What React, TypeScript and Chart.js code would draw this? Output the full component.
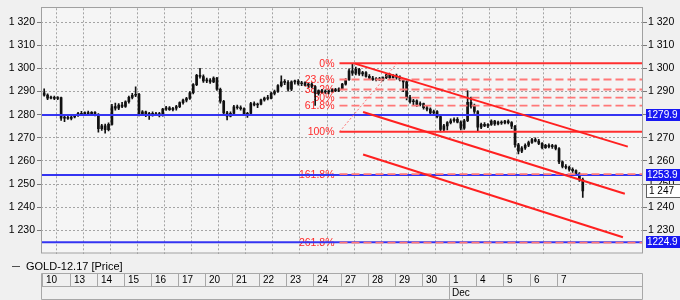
import React, { useEffect, useRef } from 'react';
import { Chart, registerables } from 'chart.js';

Chart.register(...registerables);

// ---------- data ----------
const dayLabels = ['10', '13', '14', '15', '16', '17', '20', '21', '22', '23', '24', '27', '28', '29', '30', '1', '4', '5', '6', '7'];
const monthLabels = ['Dec'];
const monthStartDay = [15];
const candlesPerDay = 8;
const seriesName = 'GOLD-12.17 [Price]';

const opens = [
  1289.5, 1288.5, 1287.2, 1287.5, 1287.0, 1287.4, 1278.5, 1278.8,
  1278.4, 1279.0, 1279.8, 1280.6, 1280.2, 1280.9, 1280.4, 1281.0,
  1280.0, 1274.0, 1275.2, 1273.5, 1275.8, 1283.5, 1282.8, 1284.2,
  1283.6, 1285.6, 1287.5, 1288.4, 1288.8, 1280.5, 1281.2, 1280.0,
  1280.6, 1280.0, 1280.5, 1279.6, 1282.4, 1283.0, 1282.2, 1282.8,
  1283.5, 1285.2, 1286.3, 1287.0, 1289.5, 1293.0, 1297.0, 1296.5,
  1294.6, 1295.0, 1294.2, 1295.8, 1291.0, 1285.8, 1280.8, 1279.4,
  1280.6, 1283.4, 1283.0, 1282.6, 1280.2, 1280.6, 1284.8, 1284.2,
  1284.6, 1286.4, 1287.2, 1287.0, 1289.2, 1290.0, 1292.6, 1294.2,
  1294.0, 1291.0, 1294.2, 1294.4, 1293.4, 1293.8, 1292.8, 1293.2,
  1292.2, 1289.2, 1290.4, 1290.0, 1289.8, 1290.2, 1290.6, 1290.4,
  1291.2, 1293.2, 1295.2, 1299.0, 1298.0, 1299.6, 1297.6, 1298.2,
  1296.6, 1295.8, 1295.2, 1295.6, 1295.0, 1296.0, 1297.2, 1296.0,
  1296.8, 1296.2, 1295.0, 1294.2, 1287.4, 1285.6, 1286.0, 1284.4,
  1284.8, 1283.0, 1282.4, 1280.8, 1281.4, 1279.2, 1273.6, 1275.2,
  1276.6, 1277.4, 1278.0, 1276.8, 1274.2, 1277.4, 1285.4, 1283.6,
  1281.4, 1274.6, 1275.8, 1275.2, 1275.8, 1277.2, 1276.0, 1276.8,
  1276.4, 1277.2, 1276.6, 1275.0, 1267.0, 1264.2, 1265.6, 1266.8,
  1268.0, 1269.2, 1268.6, 1267.6, 1265.8, 1266.8, 1266.2, 1266.6,
  1265.4, 1259.6, 1257.6, 1257.2, 1256.4, 1255.8, 1254.4, 1252.0,
];
const highs = [
  1291.2, 1289.0, 1288.0, 1288.0, 1287.8, 1287.6, 1279.5, 1279.5,
  1279.3, 1280.2, 1281.0, 1281.5, 1281.2, 1281.6, 1281.3, 1281.4,
  1280.5, 1275.8, 1276.0, 1276.5, 1284.5, 1285.0, 1284.8, 1285.4,
  1286.0, 1288.0, 1289.2, 1292.0, 1289.2, 1281.8, 1281.6, 1281.0,
  1281.2, 1281.0, 1281.0, 1282.8, 1283.6, 1283.5, 1283.2, 1284.0,
  1285.6, 1286.8, 1287.5, 1290.0, 1293.5, 1297.5, 1300.0, 1297.2,
  1295.8, 1295.6, 1296.4, 1296.2, 1291.5, 1286.2, 1281.5, 1281.2,
  1284.0, 1284.2, 1283.8, 1283.0, 1281.0, 1285.4, 1285.6, 1285.0,
  1286.8, 1287.6, 1288.4, 1289.8, 1290.6, 1293.0, 1296.8, 1295.2,
  1294.8, 1294.6, 1295.0, 1295.2, 1294.4, 1294.2, 1293.6, 1293.8,
  1292.6, 1290.8, 1291.0, 1290.8, 1290.6, 1291.2, 1291.4, 1291.6,
  1293.6, 1295.6, 1299.8, 1302.2, 1300.6, 1300.0, 1298.8, 1298.6,
  1297.4, 1296.6, 1296.0, 1296.2, 1296.4, 1297.6, 1297.8, 1297.4,
  1297.6, 1296.8, 1295.6, 1294.6, 1288.4, 1286.6, 1286.4, 1285.6,
  1285.0, 1283.8, 1283.0, 1282.0, 1281.8, 1279.6, 1275.8, 1277.0,
  1278.2, 1278.6, 1278.8, 1277.4, 1278.0, 1290.4, 1287.6, 1284.6,
  1281.8, 1276.4, 1276.6, 1276.2, 1277.8, 1277.6, 1277.2, 1277.4,
  1277.6, 1277.8, 1277.0, 1275.4, 1267.6, 1266.2, 1267.4, 1268.6,
  1269.8, 1270.0, 1269.4, 1268.0, 1267.2, 1267.4, 1267.2, 1267.0,
  1265.8, 1260.0, 1258.4, 1257.8, 1257.0, 1256.2, 1255.0, 1252.6,
];
const lows = [
  1288.0, 1286.5, 1286.8, 1286.5, 1286.5, 1277.5, 1277.0, 1278.0,
  1277.8, 1278.6, 1279.3, 1279.8, 1279.6, 1280.0, 1279.8, 1279.5,
  1272.5, 1273.2, 1272.0, 1273.0, 1275.5, 1282.0, 1282.2, 1283.0,
  1283.2, 1285.0, 1286.8, 1287.8, 1279.5, 1279.8, 1279.2, 1278.0,
  1279.4, 1279.6, 1279.0, 1279.4, 1281.8, 1281.8, 1281.6, 1282.0,
  1283.0, 1284.6, 1285.5, 1286.6, 1289.0, 1292.6, 1295.8, 1294.0,
  1293.8, 1293.5, 1293.8, 1290.5, 1285.0, 1280.0, 1277.8, 1279.0,
  1280.2, 1282.4, 1282.0, 1279.6, 1278.8, 1280.2, 1283.8, 1283.0,
  1284.2, 1285.8, 1286.4, 1286.8, 1288.6, 1289.6, 1292.0, 1293.0,
  1290.2, 1290.4, 1293.2, 1292.8, 1292.6, 1292.4, 1291.8, 1291.6,
  1284.0, 1288.4, 1289.4, 1289.2, 1289.0, 1289.8, 1290.0, 1290.0,
  1290.8, 1292.8, 1294.8, 1297.0, 1297.2, 1297.0, 1296.8, 1296.2,
  1295.4, 1294.8, 1294.6, 1294.8, 1294.6, 1295.6, 1295.6, 1295.8,
  1295.4, 1294.6, 1290.0, 1286.4, 1285.0, 1284.2, 1283.6, 1283.8,
  1282.4, 1281.6, 1280.2, 1280.0, 1278.6, 1272.6, 1272.8, 1273.4,
  1276.0, 1276.8, 1276.4, 1273.4, 1273.6, 1277.0, 1282.8, 1280.6,
  1272.8, 1274.0, 1274.8, 1274.4, 1275.4, 1275.4, 1275.6, 1275.8,
  1276.0, 1276.0, 1274.0, 1266.0, 1263.0, 1263.6, 1265.0, 1266.2,
  1267.6, 1268.2, 1267.0, 1265.2, 1265.4, 1265.6, 1265.4, 1264.8,
  1258.8, 1257.0, 1256.6, 1255.6, 1255.0, 1253.6, 1251.2, 1244.2,
];
const closes = [
  1288.5, 1287.2, 1287.5, 1287.0, 1287.4, 1278.5, 1278.8, 1278.4,
  1279.0, 1279.8, 1280.6, 1280.2, 1280.9, 1280.4, 1281.0, 1280.0,
  1274.0, 1275.2, 1273.5, 1275.8, 1283.5, 1282.8, 1284.2, 1283.6,
  1285.6, 1287.5, 1288.4, 1288.8, 1280.5, 1281.2, 1280.0, 1280.6,
  1280.0, 1280.5, 1279.6, 1282.4, 1283.0, 1282.2, 1282.8, 1283.5,
  1285.2, 1286.3, 1287.0, 1289.5, 1293.0, 1297.0, 1296.5, 1294.6,
  1295.0, 1294.2, 1295.8, 1291.0, 1285.8, 1280.8, 1279.4, 1280.6,
  1283.4, 1283.0, 1282.6, 1280.2, 1280.6, 1284.8, 1284.2, 1284.6,
  1286.4, 1287.2, 1287.0, 1289.2, 1290.0, 1292.6, 1294.2, 1294.0,
  1291.0, 1294.2, 1294.4, 1293.4, 1293.8, 1292.8, 1293.2, 1292.2,
  1289.2, 1290.4, 1290.0, 1289.8, 1290.2, 1290.6, 1290.4, 1291.2,
  1293.2, 1295.2, 1299.0, 1298.0, 1299.6, 1297.6, 1298.2, 1296.6,
  1295.8, 1295.2, 1295.6, 1295.0, 1296.0, 1297.2, 1296.0, 1296.8,
  1296.2, 1295.0, 1294.2, 1287.4, 1285.6, 1286.0, 1284.4, 1284.8,
  1283.0, 1282.4, 1280.8, 1281.4, 1279.2, 1273.6, 1275.2, 1276.6,
  1277.4, 1278.0, 1276.8, 1274.2, 1277.4, 1285.4, 1283.6, 1281.4,
  1274.6, 1275.8, 1275.2, 1275.8, 1277.2, 1276.0, 1276.8, 1276.4,
  1277.2, 1276.6, 1275.0, 1267.0, 1264.2, 1265.6, 1266.8, 1268.0,
  1269.2, 1268.6, 1267.6, 1265.8, 1266.8, 1266.2, 1266.6, 1265.4,
  1259.6, 1257.6, 1257.2, 1256.4, 1255.8, 1254.4, 1252.0, 1247.0,
];

// horizontal support / resistance lines
const hLevels = [1279.9, 1253.9, 1224.9];

// Fibonacci retracement
const fibHigh = 1302.2;
const fibLow = 1272.6;
const fibStartDay = 10.96;
const fibLevels = [0, 23.6, 38.2, 50, 61.8, 100, 161.8, 261.8];
const fibLabels = ['0%', '23.6%', '38.2%', '50%', '61.8%', '100%', '161.8%', '261.8%'];
const fibDiagX = [10.96, 13.08];
const fibDiagY = [1272.6, 1302.2];

// trend channel lines
const channelUpperX = [11.53, 21.6];
const channelUpperY = [1302.1, 1266.2];
const channelMidX = [11.83, 21.49];
const channelMidY = [1281.2, 1245.8];
const channelLowX = [11.83, 21.42];
const channelLowY = [1262.8, 1227.0];

// axes
const yTickValues = [1230, 1240, 1250, 1260, 1270, 1280, 1290, 1300, 1310, 1320];
const yMin = 1220;
const yMax = 1326;
const xMin = -0.055;
const xMax = 22.16;

// ---------- helpers ----------
const FONT = '"Liberation Sans", Arial, sans-serif';
const gridColor = '#A4A4A4';

function fmtSpace(v: number): string {
  const r = Math.round(v);
  const th = Math.floor(r / 1000);
  const rest = String(r % 1000).padStart(3, '0');
  return th > 0 ? `${th} ${rest}` : String(r);
}

function candleX(i: number): number {
  return Math.floor(i / candlesPerDay) + ((i % candlesPerDay) + 0.5) / candlesPerDay;
}

function fibValue(lvl: number): number {
  return fibHigh - (fibHigh - fibLow) * lvl / 100;
}

const decorPlugin = {
  id: 'decor',
  beforeDraw(chart: any) {
    const { ctx, chartArea: ca, width, height } = chart;
    ctx.save();
    ctx.fillStyle = '#F0F0F0';
    ctx.fillRect(0, 0, width, height);
    ctx.fillStyle = '#F5F5F5';
    ctx.fillRect(ca.left, ca.top, ca.right - ca.left, ca.bottom - ca.top);
    ctx.restore();
  },
  beforeDatasetsDraw(chart: any) {
    const { ctx, scales } = chart;
    ctx.save();
    ctx.font = `10.5px ${FONT}`;
    ctx.fillStyle = '#FF2A2A';
    ctx.textAlign = 'right';
    ctx.textBaseline = 'middle';
    const x = scales.x.getPixelForValue(fibStartDay) - 5;
    fibLevels.forEach((lvl, i) => {
      const y = scales.y.getPixelForValue(fibValue(lvl));
      ctx.fillText(fibLabels[i], x, y + 0.5);
    });
    ctx.restore();
  },
  afterDraw(chart: any) {
    const { ctx, chartArea: ca, scales, width } = chart;
    const ys = scales.y;
    const xs = scales.x;
    ctx.save();
    // frame
    ctx.strokeStyle = '#A0A0A0';
    ctx.lineWidth = 1;
    ctx.strokeRect(Math.round(ca.left) + 0.5, Math.round(ca.top) - 0.5, Math.round(ca.right - ca.left) - 1, Math.round(ca.bottom - ca.top) + 0.5);

    // price tags
    ctx.font = `10px ${FONT}`;
    ctx.textBaseline = 'middle';
    ctx.textAlign = 'left';
    const tagX = Math.round(ca.right) + 3;
    hLevels.forEach((v) => {
      const py = Math.round(ys.getPixelForValue(v));
      ctx.fillStyle = '#1818F2';
      ctx.fillRect(tagX, py - 6, width - tagX, 12);
      ctx.fillStyle = '#FFFFFF';
      ctx.fillText(v.toFixed(1), tagX + 1, py + 0.5);
    });
    const last = closes[closes.length - 1];
    const lpy = Math.round(ys.getPixelForValue(last));
    ctx.fillStyle = '#FFFFFF';
    ctx.fillRect(tagX, lpy - 7, width - tagX, 14);
    ctx.strokeStyle = '#606060';
    ctx.strokeRect(tagX + 0.5, lpy - 6.5, width - tagX + 2, 13);
    ctx.fillStyle = '#000000';
    ctx.fillText(fmtSpace(last), tagX + 3, lpy + 0.5);

    // legend
    const legY = Math.round(ca.bottom) + 12;
    ctx.strokeStyle = '#505050';
    ctx.beginPath();
    ctx.moveTo(12, legY + 0.5);
    ctx.lineTo(20, legY + 0.5);
    ctx.stroke();
    ctx.font = `11px ${FONT}`;
    ctx.fillStyle = '#000000';
    ctx.fillText(seriesName, 26, legY + 1);

    // x-axis table
    const L = Math.round(ca.left) + 0.5;
    const R = Math.round(ca.right) - 0.5;
    const t0 = Math.round(ca.bottom) + 19.5;
    const t1 = t0 + 13;
    const t2 = t1 + 13;
    ctx.strokeStyle = '#A8A8A8';
    ctx.beginPath();
    [t0, t1, t2].forEach((ty) => { ctx.moveTo(L, ty); ctx.lineTo(R, ty); });
    ctx.moveTo(L, t0); ctx.lineTo(L, t2);
    ctx.moveTo(R, t0); ctx.lineTo(R, t2);
    dayLabels.forEach((_, i) => {
      const px = Math.round(xs.getPixelForValue(i)) + 0.5;
      ctx.moveTo(px, t0); ctx.lineTo(px, t1);
    });
    monthStartDay.forEach((d) => {
      const px = Math.round(xs.getPixelForValue(d)) + 0.5;
      ctx.moveTo(px, t1); ctx.lineTo(px, t2);
    });
    ctx.stroke();
    ctx.font = `10px ${FONT}`;
    ctx.fillStyle = '#000000';
    dayLabels.forEach((lab, i) => {
      const px = Math.round(xs.getPixelForValue(i));
      ctx.fillText(lab, px + 4, (t0 + t1) / 2 + 0.5);
    });
    monthLabels.forEach((lab, i) => {
      const px = Math.round(xs.getPixelForValue(monthStartDay[i]));
      ctx.fillText(lab, px + 3, (t1 + t2) / 2 + 0.5);
    });
    ctx.restore();
  },
};

function seg(x: number[], y: number[]) {
  return x.map((xv, i) => ({ x: xv, y: y[i] }));
}

export default function App() {
  const canvasRef = useRef<HTMLCanvasElement | null>(null);

  useEffect(() => {
    document.body.style.margin = '0';
    const canvas = canvasRef.current;
    if (!canvas) return;

    const wickData = highs.map((h, i) => ({ x: candleX(i), y: [lows[i], h] }));
    const bodyData = opens.map((o, i) => ({ x: candleX(i), y: [o, closes[i]] }));

    const lineBase = {
      type: 'line' as const,
      pointRadius: 0,
      tension: 0,
      fill: false,
    };

    const datasets: any[] = [];

    datasets.push({
      type: 'bar', label: 'wick', data: wickData, backgroundColor: '#111111',
      barThickness: 1, grouped: false, borderWidth: 0, order: 20,
    });
    datasets.push({
      type: 'bar', label: 'body', data: bodyData, backgroundColor: '#111111',
      barThickness: 2, grouped: false, borderWidth: 0, minBarLength: 1, order: 19,
    });

    hLevels.forEach((v) => {
      datasets.push({
        ...lineBase, label: `h${v}`, data: [{ x: xMin, y: v }, { x: xMax, y: v }],
        borderColor: '#3434F2', borderWidth: 2, order: 10,
      });
    });

    fibLevels.forEach((lvl) => {
      const solid = lvl === 0 || lvl === 100;
      datasets.push({
        ...lineBase, label: `fib${lvl}`,
        data: [{ x: fibStartDay, y: fibValue(lvl) }, { x: xMax, y: fibValue(lvl) }],
        borderColor: solid ? '#FF2E2E' : '#FF7878',
        borderWidth: solid ? 2 : 1.8,
        borderDash: solid ? [] : [8, 4],
        order: 5,
      });
    });

    datasets.push({
      ...lineBase, label: 'fibDiag', data: seg(fibDiagX, fibDiagY),
      borderColor: '#FF7070', borderWidth: 1, borderDash: [2, 2], order: 4,
    });

    [[channelUpperX, channelUpperY], [channelMidX, channelMidY], [channelLowX, channelLowY]].forEach(([cx, cy], i) => {
      datasets.push({
        ...lineBase, label: `ch${i}`, data: seg(cx, cy),
        borderColor: '#FF2020', borderWidth: 2, order: 3,
      });
    });

    const yTickCfg = (pad: number) => ({
      color: '#000000',
      font: { family: FONT, size: 10.5 },
      padding: pad,
      callback: (v: number) => fmtSpace(v),
    });

    const chart = new Chart(canvas, {
      type: 'bar',
      data: { datasets },
      plugins: [decorPlugin],
      options: {
        animation: false,
        responsive: false,
        maintainAspectRatio: false,
        events: [],
        layout: { padding: { top: 5, bottom: 46.5, left: 0, right: 0 } },
        plugins: { legend: { display: false }, tooltip: { enabled: false } },
        scales: {
          x: {
            type: 'linear',
            min: xMin,
            max: xMax,
            offset: false,
            afterBuildTicks: (s: any) => { s.ticks = dayLabels.map((_, i) => ({ value: i })); },
            afterFit: (s: any) => { s.height = 0; },
            ticks: { display: false },
            grid: { color: gridColor, drawTicks: false, lineWidth: 1 },
            border: { display: false, dash: [2, 2] },
          },
          y: {
            type: 'linear',
            position: 'left',
            min: yMin,
            max: yMax,
            afterBuildTicks: (s: any) => { s.ticks = yTickValues.map((v) => ({ value: v })); },
            afterFit: (s: any) => { s.width = 41; },
            ticks: yTickCfg(2) as any,
            grid: { color: gridColor, tickLength: 4, tickColor: '#7A7A7A', tickBorderDash: [], lineWidth: 1 },
            border: { display: false, dash: [2, 2] },
          },
          y2: {
            type: 'linear',
            position: 'right',
            min: yMin,
            max: yMax,
            afterBuildTicks: (s: any) => { s.ticks = yTickValues.map((v) => ({ value: v })); },
            afterFit: (s: any) => { s.width = 37; },
            ticks: yTickCfg(1) as any,
            grid: { drawOnChartArea: false, tickLength: 4, tickColor: '#7A7A7A', tickBorderDash: [] },
            border: { display: false },
          },
        },
      } as any,
    });

    return () => { chart.destroy(); };
  }, []);

  return (
    <div style={{ position: 'absolute', left: 0, top: 0, width: 680, height: 300 }}>
      <canvas ref={canvasRef} width={680} height={300} style={{ display: 'block', width: 680, height: 300 }} />
    </div>
  );
}
